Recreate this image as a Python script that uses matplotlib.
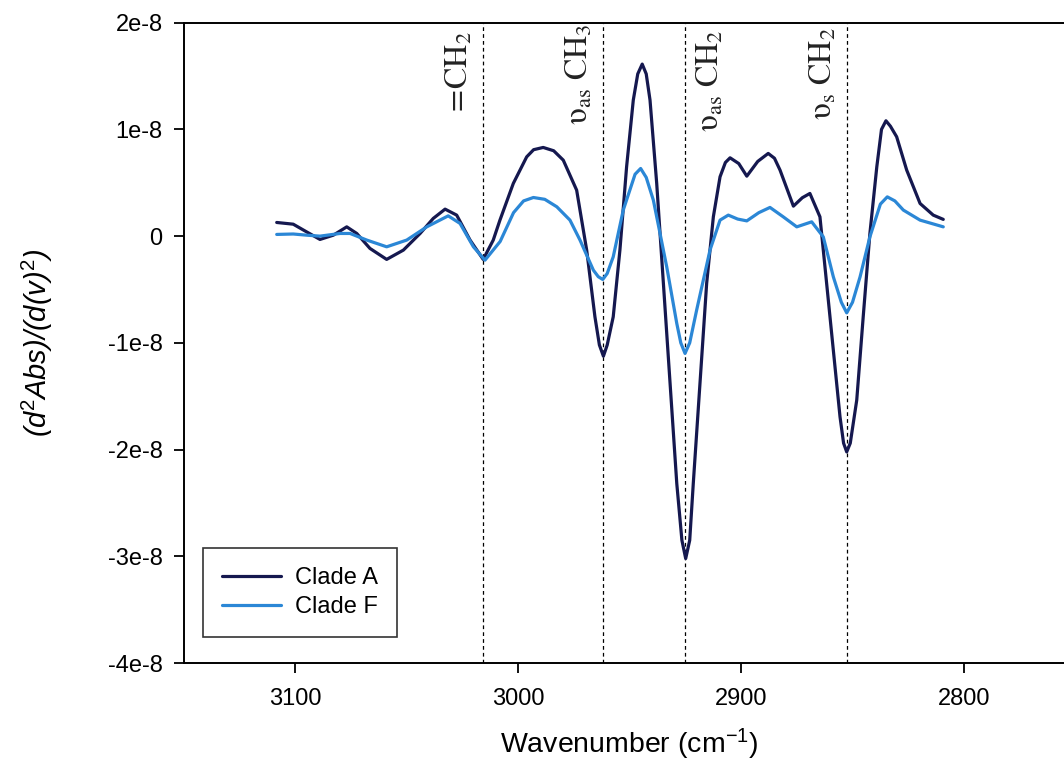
import matplotlib
matplotlib.use("Agg")
import matplotlib.pyplot as plt
import numpy as np

# ---------------- data (values in units of 1e-8) ----------------
wn_a = [3108.2, 3100.8, 3094.8, 3088.8, 3082.8, 3076.8, 3072.3, 3066.4, 3058.9, 3051.4,
        3043.9, 3038.0, 3032.7, 3027.5, 3021.5, 3015.6, 3011.1, 3008.1, 3002.1, 2996.1,
        2993.0, 2988.7, 2984.0, 2979.7, 2973.7, 2969.2, 2965.5, 2963.5, 2961.7, 2960.0,
        2957.3, 2954.3, 2951.3, 2948.3, 2946.3, 2944.3, 2942.5, 2940.8, 2937.8, 2934.8,
        2931.8, 2928.8, 2926.5, 2924.8, 2923.0, 2921.4, 2918.4, 2915.4, 2912.4, 2909.4,
        2907.0, 2904.9, 2901.0, 2897.4, 2892.5, 2887.8, 2885.0, 2882.5, 2876.5, 2872.5,
        2869.1, 2864.6, 2861.6, 2858.6, 2855.6, 2854.0, 2852.6, 2851.0, 2848.1, 2845.2,
        2842.2, 2839.1, 2837.0, 2835.0, 2833.0, 2830.2, 2825.7, 2819.7, 2813.8, 2809.3]
clade_a = [0.128, 0.112, 0.040, -0.031, 0.009, 0.087, 0.025, -0.115, -0.218, -0.131,
           0.025, 0.166, 0.253, 0.197, -0.037, -0.218, -0.037, 0.150, 0.494, 0.743,
           0.810, 0.831, 0.800, 0.712, 0.431, -0.131, -0.756, -1.020, -1.125, -1.020,
           -0.756, -0.131, 0.650, 1.275, 1.520, 1.612, 1.520, 1.275, 0.494, -0.443,
           -1.381, -2.318, -2.850, -3.021, -2.850, -2.318, -1.381, -0.443, 0.181, 0.556,
           0.690, 0.734, 0.680, 0.562, 0.700, 0.775, 0.730, 0.619, 0.281, 0.360,
           0.400, 0.181, -0.443, -1.068, -1.693, -1.940, -2.022, -1.940, -1.537, -0.756,
           0.025, 0.650, 1.000, 1.081, 1.030, 0.931, 0.619, 0.306, 0.197, 0.157]

wn_f = [3108.2, 3100.8, 3094.8, 3088.8, 3079.8, 3075.3, 3067.8, 3058.9, 3049.9, 3040.9,
        3031.3, 3026.0, 3020.0, 3014.8, 3008.0, 3002.0, 2997.5, 2993.1, 2988.0, 2982.6,
        2976.7, 2972.2, 2966.2, 2964.0, 2962.0, 2960.0, 2957.3, 2952.8, 2947.5, 2945.0,
        2942.5, 2939.3, 2933.3, 2928.8, 2927.0, 2925.1, 2923.0, 2919.9, 2913.9, 2909.4,
        2905.7, 2901.5, 2897.4, 2892.0, 2887.0, 2881.0, 2875.0, 2868.3, 2863.1, 2858.6,
        2855.0, 2852.6, 2850.0, 2846.6, 2842.2, 2837.5, 2834.4, 2831.0, 2827.2, 2819.7,
        2809.3]
clade_f = [0.016, 0.020, 0.009, 0.000, 0.025, 0.025, -0.037, -0.100, -0.037, 0.087,
           0.190, 0.119, -0.100, -0.225, -0.050, 0.220, 0.330, 0.362, 0.345, 0.275,
           0.150, -0.037, -0.319, -0.380, -0.406, -0.350, -0.194, 0.244, 0.580, 0.634,
           0.550, 0.337, -0.288, -0.818, -1.000, -1.099, -1.000, -0.694, -0.131, 0.150,
           0.197, 0.160, 0.143, 0.220, 0.269, 0.180, 0.087, 0.134, -0.007, -0.381,
           -0.620, -0.719, -0.620, -0.381, -0.007, 0.300, 0.368, 0.330, 0.244, 0.150,
           0.087]

band_positions = [3015.5, 2962.0, 2925.0, 2852.5]
band_labels = [r'$=\!\mathrm{CH}_2$', r'$\mathrm{\upsilon}_{\mathrm{as}}\ \mathrm{CH}_3$',
               r'$\mathrm{\upsilon}_{\mathrm{as}}\ \mathrm{CH}_2$', r'$\mathrm{\upsilon}_{\mathrm{s}}\ \mathrm{CH}_2$']

xtick_values = [3100, 3000, 2900, 2800]
ytick_values = [2e-8, 1e-8, 0, -1e-8, -2e-8, -3e-8, -4e-8]
ytick_labels = ['2e-8', '1e-8', '0', '-1e-8', '-2e-8', '-3e-8', '-4e-8']

series_names = ['Clade A', 'Clade F']
series_colors = ['#15184f', '#2b87d6']

# ---------------- figure ----------------
plt.rcParams['font.family'] = ['Liberation Sans', 'DejaVu Sans']
plt.rcParams['mathtext.fontset'] = 'custom'
plt.rcParams['mathtext.rm'] = 'Liberation Sans'
plt.rcParams['mathtext.it'] = 'Liberation Sans:italic'
plt.rcParams['mathtext.bf'] = 'Liberation Sans:bold'

W, H = 1064, 771
fig = plt.figure(figsize=(W / 100, H / 100), dpi=100)
ax_left, ax_right, ax_top, ax_bottom = 183.5, 1075.5, 22.7, 663.0
ax = fig.add_axes([ax_left / W, 1 - ax_bottom / H, (ax_right - ax_left) / W, (ax_bottom - ax_top) / H])

scale = 1e-8
ax.plot(wn_a, np.array(clade_a) * scale, color=series_colors[0], lw=2.3,
        label=series_names[0], solid_capstyle='round', solid_joinstyle='round', zorder=3)
ax.plot(wn_f, np.array(clade_f) * scale, color=series_colors[1], lw=2.3,
        label=series_names[1], solid_capstyle='round', solid_joinstyle='round', zorder=3)

for pos in band_positions:
    ax.axvline(pos, color='black', lw=0.9, ls=(0, (3.0, 2.5)), zorder=1)

# band labels (rotated)
label_specs = [  # (offset x in px, ha, top offset px)
    (-9, 'right', 9),
    (-8, 'right', 1),
    (10, 'left', 7),
    (-8, 'right', 5),
]
for pos, txt, (dx, ha, dy) in zip(band_positions, band_labels, label_specs):
    ax.annotate(txt, xy=(pos, 1.0), xycoords=('data', 'axes fraction'),
                xytext=(dx * 0.72, -dy * 0.72), textcoords='offset points',
                rotation=90, ha=ha, va='top', fontsize=23, math_fontfamily='stix',
                color='#222222')

ax.set_xlim(3150, 2750)
ax.set_ylim(-4e-8, 2e-8)
ax.set_xticks(xtick_values)
ax.set_xticklabels([str(v) for v in xtick_values])
ax.set_yticks(ytick_values)
ax.set_yticklabels(ytick_labels)

ax.tick_params(axis='both', direction='out', length=7, width=1.3, labelsize=17, colors='black')
ax.tick_params(axis='x', pad=11)
ax.tick_params(axis='y', pad=8)
for s in ['left', 'bottom', 'top', 'right']:
    ax.spines[s].set_linewidth(1.4)
    ax.spines[s].set_color('black')

ax.set_xlabel('Wavenumber (cm$^{-1}$)', fontsize=20.5, labelpad=12)
ax.set_ylabel('(d$^2$Abs)/(d(v)$^2$)', fontsize=21, style='italic', labelpad=38)

leg = ax.legend(loc='lower left', bbox_to_anchor=((203 - ax_left) / (ax_right - ax_left),
                                                  (ax_bottom - 637) / (ax_bottom - ax_top)),
                borderaxespad=0, fontsize=17, frameon=True, fancybox=False,
                handlelength=2.5, handletextpad=0.6, borderpad=0.8, labelspacing=0.3)
leg.get_frame().set_edgecolor('black')
leg.get_frame().set_linewidth(1.2)

fig.savefig('out.png', dpi=100)
